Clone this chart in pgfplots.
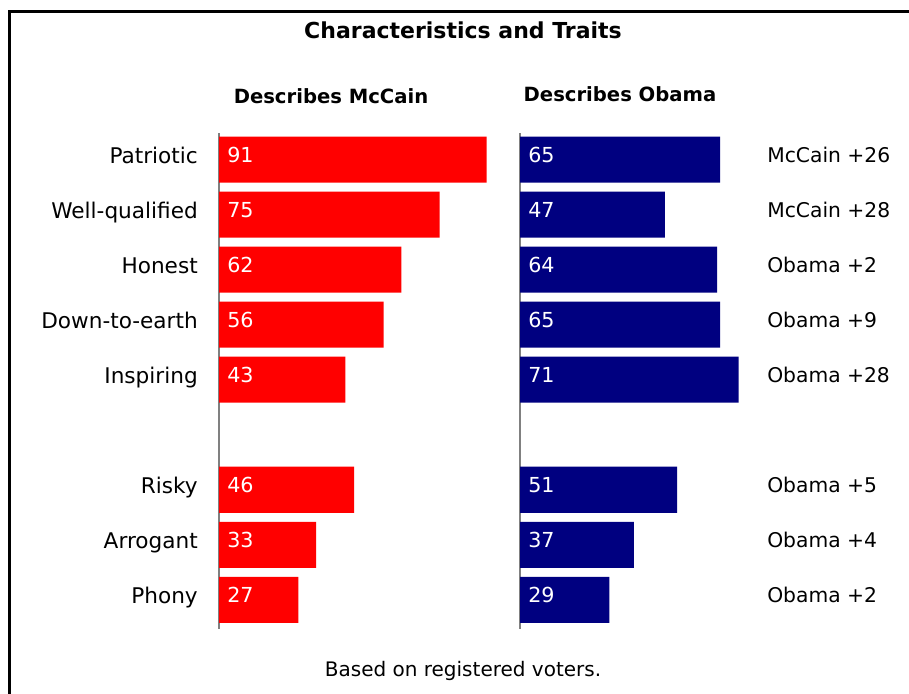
\documentclass[border=0pt]{standalone}
\usepackage{pgfplots}
\pgfplotsset{compat=1.18}
\usepackage{pgfplotstable}
\usepackage{fontspec}
\setmainfont{DejaVu Sans}
\definecolor{mcred}{RGB}{255,0,0}
\definecolor{obnavy}{RGB}{0,0,128}
\def\px{0.75pt}
\pgfplotstableread[col sep=comma]{
idx,mccain,obama,diff
0,91,65,McCain +26
1,75,47,McCain +28
2,62,64,Obama +2
3,56,65,Obama +9
4,43,71,Obama +28
6,46,51,Obama +5
7,33,37,Obama +4
8,27,29,Obama +2
}\data
\pgfplotsset{
  half/.style={
    anchor=north west, scale only axis,
    height={495.6*\px},
    xmin=0, xmax=100, ymin=-0.48, ymax=8.53, y dir=reverse,
    axis x line=none, axis y line*=left,
    y axis line style={draw=gray, line width={1.5*\px}},
    ytick={0,1,2,3,4,6,7,8},
    ytick style={draw=none},
    clip=false,
  },
  vallabel/.style={draw=none, mark=none, nodes near coords,
    point meta=explicit symbolic,
    nodes near coords style={anchor=base west, inner sep=0pt, text=white,
      font=\fontsize{15.5}{18}\selectfont, xshift={8*\px}, yshift={-3*\px}}},
}
\begin{document}
\begin{tikzpicture}
\useasboundingbox (0,0) rectangle ({909*\px},{-693*\px});
\draw[line width={3*\px}] ({9.5*\px},{-720*\px}) -- ({9.5*\px},{-11*\px}) -- ({930*\px},{-11*\px});
\node[anchor=base, font=\bfseries\fontsize{16.5}{20}\selectfont] at ({463*\px},{-38*\px}) {Characteristics and Traits};
\node[anchor=base, font=\bfseries\fontsize{14.7}{18}\selectfont] at ({331*\px},{-103*\px}) {Describes McCain};
\node[anchor=base, font=\bfseries\fontsize{14.7}{18}\selectfont] at ({620*\px},{-101*\px}) {Describes Obama};
\node[anchor=base, font=\fontsize{15}{18}\selectfont] at ({463*\px},{-676*\px}) {Based on registered voters.};

\begin{axis}[half, at={({219*\px},{-133.3*\px})}, width={294*\px},
  yticklabels={Patriotic,Well-qualified,Honest,Down-to-earth,Inspiring,Risky,Arrogant,Phony},
  yticklabel style={font=\fontsize{16.2}{18}\selectfont, inner sep=0pt,
    text height=0.74em, text depth=0.2em, xshift={-21*\px}}]
\addplot[xbar, bar width={46*\px}, fill=mcred, draw=none] table[x=mccain, y=idx]{\data};
\addplot[vallabel] table[x expr=0, y=idx, meta=mccain]{\data};
\end{axis}

\begin{axis}[half, at={({520*\px},{-133.3*\px})}, width={308*\px}, yticklabels={}]
\addplot[xbar, bar width={46*\px}, fill=obnavy, draw=none] table[x=obama, y=idx]{\data};
\addplot[vallabel] table[x expr=0, y=idx, meta=obama]{\data};
\addplot[draw=none, mark=none, nodes near coords, point meta=explicit symbolic,
  nodes near coords style={anchor=base west, inner sep=0pt, text=black,
    font=\fontsize{15.2}{18}\selectfont, yshift={-3*\px}}]
  table[x expr=80.2, y=idx, meta=diff]{\data};
\end{axis}
\end{tikzpicture}
\end{document}
